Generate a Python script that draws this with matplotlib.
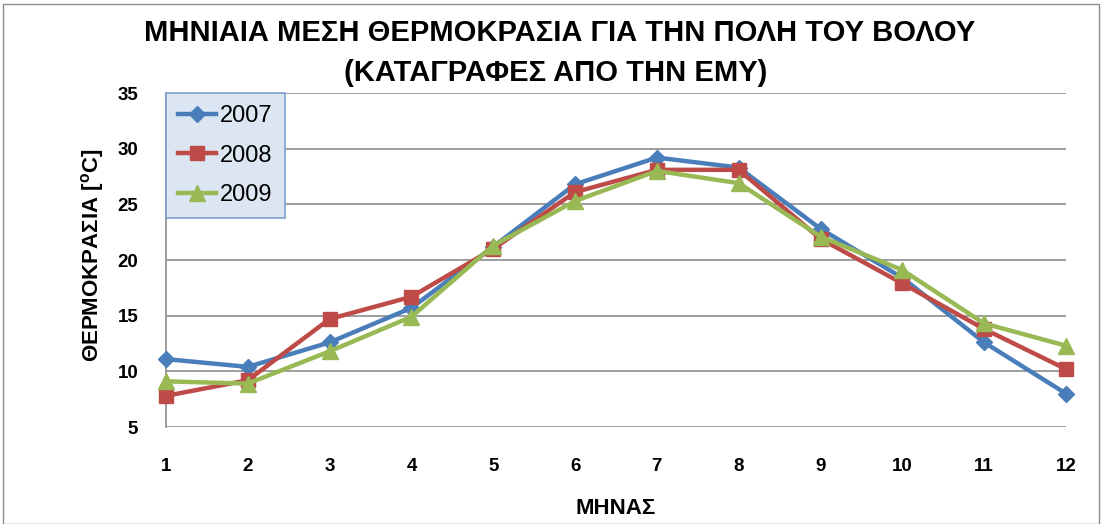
import matplotlib
matplotlib.use("Agg")
import matplotlib.pyplot as plt
from matplotlib.patches import Rectangle

months = [1, 2, 3, 4, 5, 6, 7, 8, 9, 10, 11, 12]
t2007 = [11.1, 10.4, 12.6, 15.7, 21.2, 26.8, 29.2, 28.3, 22.8, 18.4, 12.6, 8.0]
t2008 = [7.8, 9.2, 14.7, 16.7, 21.0, 26.1, 28.1, 28.1, 21.9, 17.9, 13.8, 10.2]
t2009 = [9.1, 8.9, 11.8, 14.9, 21.3, 25.3, 28.0, 26.9, 22.1, 19.1, 14.3, 12.3]
series_labels = ["2007", "2008", "2009"]
yticks = [5, 10, 15, 20, 25, 30, 35]

fam = "Liberation Sans"
plt.rcParams['font.family'] = [fam, 'DejaVu Sans']
plt.rcParams['mathtext.fontset'] = 'custom'
plt.rcParams['mathtext.rm'] = fam
plt.rcParams['mathtext.bf'] = fam + ':bold'

fig = plt.figure(figsize=(11.04, 5.24), dpi=100)
ax = fig.add_axes([166/1104, 1-427/524, 900/1104, 334/524])

fig.patches.append(Rectangle((3/1104, 0), 1096/1104, 1-4/524, transform=fig.transFigure,
                             fill=False, edgecolor='#8c8c8c', linewidth=1.0))

colors = ['#4a7ebb', '#be4b48', '#98b954']
markers = ['D', 's', '^']
msizes = [8, 10, 11]
for vals, lab, c, m, ms in zip([t2007, t2008, t2009], series_labels, colors, markers, msizes):
    ax.plot(months, vals, color=c, marker=m, markersize=ms, linewidth=3.2, label=lab,
            markeredgecolor=c, clip_on=False, zorder=3)

ax.set_xlim(1, 12)
ax.set_ylim(5, 35)
ax.set_yticks(yticks)
ax.set_xticks(months)
ax.grid(axis='y', color='#8c8c8c', linewidth=1.2)
ax.set_axisbelow(True)
for s in ['top', 'right', 'bottom']:
    ax.spines[s].set_visible(False)
ax.spines['left'].set_color('#8c8c8c')
ax.spines['left'].set_linewidth(1.2)
ax.tick_params(length=0, labelsize=13.5)
ax.tick_params(axis='x', pad=22)
ax.tick_params(axis='y', pad=20)
for lbl in ax.get_xticklabels() + ax.get_yticklabels():
    lbl.set_fontweight('bold')

fig.text(616/1104, 1-508/524, 'ΜΗΝΑΣ', ha='center', va='center', fontsize=16, fontweight='bold')
fig.text(92/1104, 1-255/524, r'ΘΕΡΜΟΚΡΑΣΙΑ [$\mathbf{^{o}}$C]', ha='center', va='center',
         rotation=90, fontsize=16, fontweight='bold')

fig.text(560/1104, 1-33/524, 'ΜΗΝΙΑΙΑ ΜΕΣΗ ΘΕΡΜΟΚΡΑΣΙΑ ΓΙΑ ΤΗΝ ΠΟΛΗ ΤΟΥ ΒΟΛΟΥ',
         ha='center', va='center', fontsize=21, fontweight='bold')
fig.text(556/1104, 1-73/524, '(ΚΑΤΑΓΡΑΦΕΣ ΑΠΟ ΤΗΝ ΕΜΥ)',
         ha='center', va='center', fontsize=21, fontweight='bold')

leg = ax.legend(loc='upper left', bbox_to_anchor=(0, 1), fontsize=17, fancybox=False,
                framealpha=1, facecolor='#dce6f2', edgecolor='#7f9fcf',
                borderaxespad=0, handlelength=1.6, labelspacing=0.75, handletextpad=0.2,
                borderpad=0.5)
leg.get_frame().set_linewidth(1.2)

fig.savefig('out.png', dpi=100)
